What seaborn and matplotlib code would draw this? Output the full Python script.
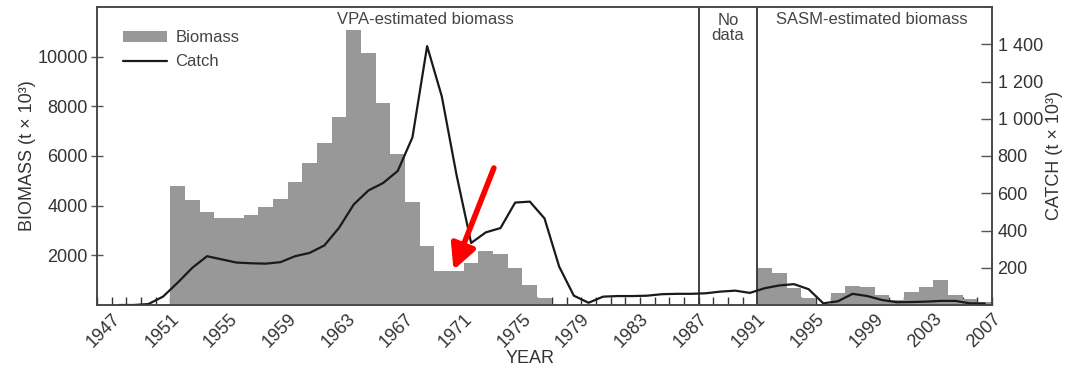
import numpy as np
import pandas as pd
import matplotlib
matplotlib.use("Agg")
import matplotlib.pyplot as plt
from matplotlib.patches import Patch
from matplotlib.lines import Line2D
import matplotlib.ticker as mticker
import seaborn as sns

# Biomass (t x 10^3): VPA estimates 1951-1976, SASM estimates 1991-2006
vpa_years = list(range(1951, 1977))
vpa_biomass = [4800, 4230, 3730, 3490, 3490, 3620, 3960, 4270, 4970, 5700,
               6510, 7580, 11070, 10130, 8150, 6080, 4160, 2390, 1380, 1380,
               1710, 2170, 2050, 1510, 805, 270]
sasm_years = list(range(1991, 2007))
sasm_biomass = [1477, 1275, 700, 300, 60, 470, 765, 720, 403, 200,
                537, 738, 1007, 403, 230, 134]

# Catch (t x 10^3), 1947-2006
catch_years = list(range(1947, 2007))
catch = [0, 0, 5, 45, 120, 200, 262, 245, 228, 224,
         222, 230, 262, 280, 320, 415, 540, 615, 655, 720,
         900, 1390, 1120, 700, 333, 390, 413, 550, 555, 465,
         206, 50, 12, 45, 48, 48, 50, 58, 60, 60,
         63, 72, 77, 65, 90, 105, 112, 85, 9, 20,
         60, 48, 27, 15, 16, 18, 22, 22, 9, 8]

year_ticks = list(range(1947, 2008, 4))
left_ticks = [2000, 4000, 6000, 8000, 10000]
right_ticks = [200, 400, 600, 800, 1000, 1200, 1400]

sns.set_style("ticks")
plt.rcParams["font.family"] = ["Liberation Sans", "DejaVu Sans"]

bar_color = "#989898"
line_color = "#1a1a1a"
frame_color = "#444444"

fig = plt.figure(figsize=(10.67, 3.69), dpi=100)
ax = fig.add_axes([97 / 1067, 1 - 305 / 369, 895 / 1067, 298 / 369])

# one-year bars, each spanning [year, year + 1]
for yrs, vals in ((vpa_years, vpa_biomass), (sasm_years, sasm_biomass)):
    sns.histplot(x=np.array(yrs, dtype=float), weights=np.array(vals, dtype=float),
                 binwidth=1, binrange=(yrs[0], yrs[-1] + 1),
                 color=bar_color, alpha=1, linewidth=0, ax=ax)

ax.set_xlim(1946, 2007)
ax.set_ylim(0, 12000)

ax.axvline(1987, color="#333333", lw=1.3, zorder=3)
ax.axvline(1991, color="#333333", lw=1.3, zorder=3)

ax2 = ax.twinx()
cdf = pd.DataFrame({"year": np.array(catch_years) + 0.5, "catch": catch})
sns.lineplot(data=cdf, x="year", y="catch", color=line_color, lw=1.6,
             ax=ax2, legend=False)
ax2.set_ylim(0, 1600)
ax2.set_xlim(1946, 2007)

# x axis
ax.xaxis.set_major_locator(mticker.FixedLocator(year_ticks))
ax.xaxis.set_minor_locator(mticker.MultipleLocator(1))
ax.set_xticklabels([str(y) for y in year_ticks], rotation=45, ha="right",
                   rotation_mode="anchor", fontsize=13, color="#333333")
ax.tick_params(axis="x", which="both", direction="in", length=6,
               width=1, color="#333333", pad=4)

# left y axis
ax.set_yticks(left_ticks)
ax.set_yticklabels([str(v) for v in left_ticks], fontsize=13, color="#333333")
ax.tick_params(axis="y", direction="inout", length=9, width=1,
               color="#555555", pad=2)

# right y axis
ax2.set_yticks(right_ticks)
ax2.set_yticklabels([f"{v:,}".replace(",", " ") for v in right_ticks],
                    fontsize=13, color="#333333")
ax2.tick_params(axis="y", direction="in", length=8, width=1,
                color="#555555", pad=4)

for a in (ax, ax2):
    for s in a.spines.values():
        s.set_color(frame_color)
        s.set_linewidth(1.1)

ax.set_xlabel("YEAR", fontsize=13, color="#333333")
ax.xaxis.set_label_coords(0.484, -0.15)
ax.xaxis.label.set_va("top")
ax.set_ylabel("BIOMASS (t × 10³)", fontsize=13, color="#333333")
ax.yaxis.set_label_coords(-0.068, 0.5)
ax2.set_ylabel("CATCH (t × 10³)", fontsize=13, color="#333333", rotation=90)
ax2.yaxis.set_label_coords(1.06, 0.5)

trans = ax.get_xaxis_transform()
ax.text(1968.4, 0.958, "VPA-estimated biomass", transform=trans,
        ha="center", va="center", fontsize=12, color="#444444")
ax.text(1989, 0.93, "No\ndata", transform=trans, ha="center", va="center",
        fontsize=12, color="#444444", linespacing=1.0)
ax.text(1998.8, 0.958, "SASM-estimated biomass", transform=trans,
        ha="center", va="center", fontsize=12, color="#444444")

handles = [Patch(facecolor=bar_color, edgecolor="none", label="Biomass"),
           Line2D([0], [0], color=line_color, lw=1.6, label="Catch")]
ax2.legend(handles=handles, loc="upper left", bbox_to_anchor=(0.029, 0.922),
           frameon=False, fontsize=12, handlelength=2.65, handletextpad=0.5,
           labelspacing=0.55, borderaxespad=0, borderpad=0,
           labelcolor="#444444")

# red arrow pointing at the 1970 biomass low
ax2.annotate("", xy=(1970.3, 1409 / 7.5), xytext=(1973.05, 5517 / 7.5),
             arrowprops=dict(arrowstyle="-|>,head_length=0.75,head_width=0.38",
                             color="#ff0000", lw=4, shrinkA=0, shrinkB=0,
                             mutation_scale=20))

fig.savefig("out.png", dpi=100)
